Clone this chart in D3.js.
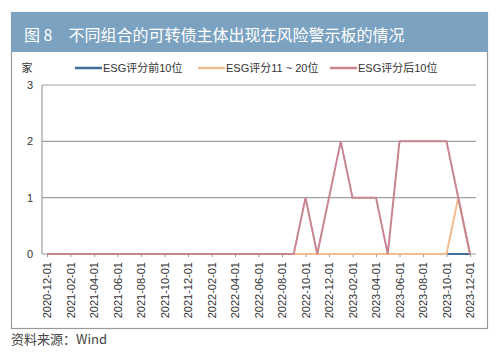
<!DOCTYPE html>
<html><head><meta charset="utf-8">
<script src="https://cdn.jsdelivr.net/npm/d3@7"></script>
<style>body{margin:0;background:#fff}svg{display:block}</style>
</head><body>
<script>
const months = ["2020-12-01","2021-01-01","2021-02-01","2021-03-01","2021-04-01","2021-05-01","2021-06-01","2021-07-01","2021-08-01","2021-09-01","2021-10-01","2021-11-01","2021-12-01","2022-01-01","2022-02-01","2022-03-01","2022-04-01","2022-05-01","2022-06-01","2022-07-01","2022-08-01","2022-09-01","2022-10-01","2022-11-01","2022-12-01","2023-01-01","2023-02-01","2023-03-01","2023-04-01","2023-05-01","2023-06-01","2023-07-01","2023-08-01","2023-09-01","2023-10-01","2023-11-01","2023-12-01"];
const top10 = [0,0,0,0,0,0,0,0,0,0,0,0,0,0,0,0,0,0,0,0,0,0,0,0,0,0,0,0,0,0,0,0,0,0,0,0,0];
const mid10 = [0,0,0,0,0,0,0,0,0,0,0,0,0,0,0,0,0,0,0,0,0,0,0,0,0,0,0,0,0,0,0,0,0,0,0,1,0];
const bottom10 = [0,0,0,0,0,0,0,0,0,0,0,0,0,0,0,0,0,0,0,0,0,0,1,0,1,2,1,1,1,0,2,2,2,2,2,1,0];
const seriesNames = ["ESG评分前10位","ESG评分11 ~ 20位","ESG评分后10位"];
const seriesColors = ["#3f6e98","#f2bc90","#c6858f"];
const yTicks = [0,1,2,3];
const title = "图 8　不同组合的可转债主体出现在风险警示板的情况";
const source = "资料来源：Wind";

const W = 499, H = 360;
const svg = d3.select("body").append("svg").attr("width", W).attr("height", H);
const font = "'Liberation Sans', Arial, 'Noto Sans CJK SC', sans-serif";

// frame
svg.append("rect").attr("x", 11.5).attr("y", 12.5).attr("width", 476).attr("height", 316)
  .attr("fill", "none").attr("stroke", "#9a9a9a").attr("stroke-width", 1.2);
svg.append("rect").attr("x", 11).attr("y", 12).attr("width", 477).attr("height", 40).attr("fill", "#7ba2c0");
svg.append("text").attr("x", 24).attr("y", 41).attr("fill", "#fff")
  .attr("font-family", "'Noto Sans CJK SC', sans-serif").attr("font-size", 16).text(title);

const x = d3.scaleLinear().domain([0, months.length - 1]).range([47, 470]);
const y = d3.scaleLinear().domain([0, 3]).range([254, 85]);
const plotL = 42, plotR = 476;

// gridlines
svg.append("g").selectAll("line").data(yTicks).join("line")
  .attr("x1", plotL).attr("x2", plotR).attr("y1", d => y(d)).attr("y2", d => y(d))
  .attr("stroke", "#a0a0a0").attr("stroke-width", 1.2);
// y axis line
svg.append("line").attr("x1", plotL).attr("x2", plotL).attr("y1", y(3)).attr("y2", y(0))
  .attr("stroke", "#a0a0a0").attr("stroke-width", 1.2);

// y axis labels
const yAxis = d3.axisLeft(y).tickValues(yTicks).tickSize(0).tickPadding(9).tickFormat(d3.format("d"));
const gy = svg.append("g").attr("transform", `translate(${plotL},0)`).call(yAxis);
gy.select(".domain").remove();
gy.selectAll("text").attr("font-family", font).attr("font-size", 11).attr("fill", "#333");
svg.append("text").attr("x", 27).attr("y", 72).attr("text-anchor", "middle")
  .attr("font-family", "'Noto Sans CJK SC', sans-serif").attr("font-size", 11).attr("fill", "#333").text("家");

// x axis
const tickIdx = months.map((m, i) => i).filter(i => i % 2 === 0);
const xAxis = d3.axisBottom(x).tickValues(tickIdx).tickSize(3).tickPadding(0).tickFormat(i => months[i]);
const gx = svg.append("g").attr("transform", `translate(0,${y(0)})`).call(xAxis);
gx.select(".domain").remove();
gx.selectAll(".tick line").attr("stroke", "#999");
gx.selectAll("text").attr("font-family", font).attr("font-size", 11).attr("fill", "#333")
  .attr("transform", "rotate(-90)").attr("text-anchor", "end").attr("dx", "-8").attr("dy", "0.35em")
  .attr("x", 0).attr("y", 0);

// lines
const line = d3.line().x((d, i) => x(i)).y(d => y(d));
[top10, mid10, bottom10].forEach((s, k) => {
  svg.append("path").datum(s).attr("d", line).attr("fill", "none")
    .attr("stroke", seriesColors[k]).attr("stroke-width", 2).attr("stroke-linejoin", "miter");
});

// legend
const legX = [75, 198, 330];
const lg = svg.append("g");
seriesNames.forEach((n, k) => {
  lg.append("line").attr("x1", legX[k]).attr("x2", legX[k] + 27).attr("y1", 68).attr("y2", 68)
    .attr("stroke", seriesColors[k]).attr("stroke-width", 2.5);
  lg.append("text").attr("x", legX[k] + 28).attr("y", 72).attr("font-family", font)
    .attr("font-size", 11).attr("fill", "#333").text(n);
});

// source
svg.append("text").attr("x", 11).attr("y", 344).attr("font-family", "'Noto Sans CJK SC', sans-serif")
  .attr("font-size", 13).attr("fill", "#444").text(source);
</script>
</body></html>
